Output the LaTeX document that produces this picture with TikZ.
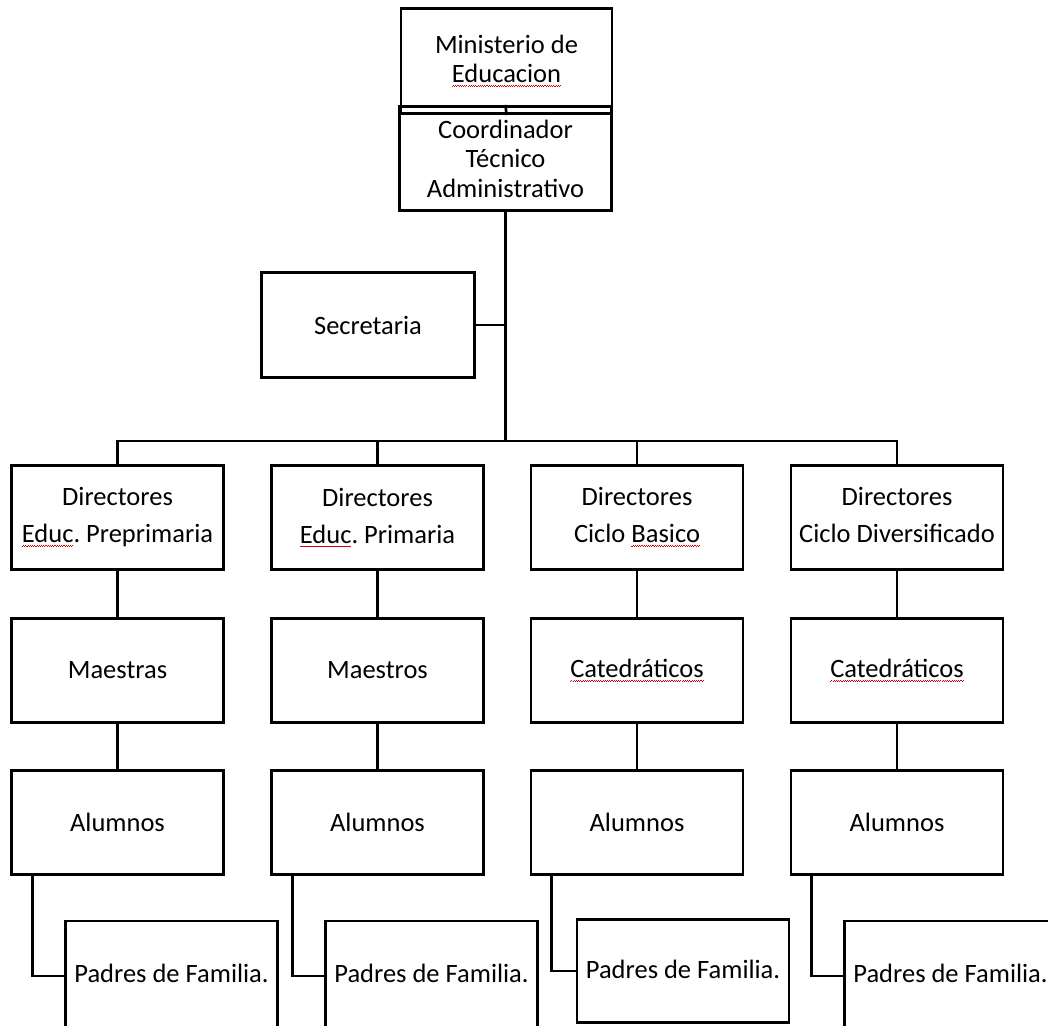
\documentclass[tikz,border=0pt]{standalone}
\usepackage{fontspec}
\setmainfont{Carlito}
\frenchspacing
\newcommand\wavebit{\hbox{\rule{1.1pt}{0.8pt}\raise0.8pt\hbox{\rule{1.1pt}{0.8pt}}}}
\newcommand\sq[1]{\setbox0\hbox{#1}\rlap{\color{red!85!black}\lower4pt\hbox to\wd0{\xleaders\wavebit\hfill}}\box0\relax}
\tikzset{
  ln/.style={line width=2.7pt},
  bx/.style={draw, line width=2.7pt, minimum width=212pt, minimum height=104pt,
    inner sep=0pt, align=center, font=\fontsize{26.5}{37}\selectfont\frenchspacing},
  topbx/.style={bx, font=\fontsize{26.5}{29.5}\selectfont\frenchspacing},
  lbl/.style={inner sep=0pt, font=\fontsize{26.5}{31}\selectfont\frenchspacing},
}
\begin{document}
\begin{tikzpicture}[x=1pt,y=-1pt]
\useasboundingbox (0,0) rectangle (1048,1025);
\clip (0,0) rectangle (1048,1025);

% top
\node[topbx, minimum width=211pt, minimum height=105.5pt] (min) at (506.5,61) {Ministerio de\\\sq{Educacion}};
\node[topbx, minimum width=212.5pt, minimum height=104.5pt] (coord) at (505.5,158.5) {Coordinador\\Técnico\\Administrativo};
\node[bx, minimum width=213.5pt, minimum height=105.5pt] (sec) at (368,325) {Secretaria};
\coordinate (bus) at (506,441);

% directors
\node[bx] (d1) at (117.5,517.5) {Directores\\\sq{Educ}. Preprimaria};
\node[bx] (d2) at (377.5,517.5) {Directores\\\sq{Educ}. Primaria};
\node[bx] (d3) at (637,517.5) {Directores\\Ciclo \sq{Basico}\vphantom{p}};
\node[bx] (d4) at (897,517.5) {Directores\\Ciclo Diversificado\vphantom{p}};

% teachers
\node[bx] (m1) at (117.5,670.5) {Maestras};
\node[bx] (m2) at (377.5,670.5) {Maestros};
\node[bx] (m3) at (637,670.5) {\sq{Catedráticos}};
\node[bx] (m4) at (897,670.5) {\sq{Catedráticos}};

% students
\node[bx] (a1) at (117.5,822.5) {Alumnos};
\node[bx] (a2) at (377.5,822.5) {Alumnos};
\node[bx] (a3) at (637,822.5) {Alumnos};
\node[bx] (a4) at (897,822.5) {Alumnos};

% parents boxes
\node[bx, minimum height=110pt] (p1) at (171.5,976) {};
\node[bx, minimum height=110pt] (p2) at (431.5,976) {};
\node[bx, minimum height=103.5pt] (p3) at (683,971) {};
\node[bx, minimum height=110pt] (p4) at (950.5,976) {};
\node[lbl, anchor=base] (p1t) at (171.5,982) {Padres de Familia.};
\node[lbl, anchor=base] (p2t) at (431.5,982) {Padres de Familia.};
\node[lbl, anchor=base] (p3t) at (683,978) {Padres de Familia.};
\node[lbl, anchor=base] (p4t) at (950.5,982) {Padres de Familia.};

\coordinate (a1c) at ([xshift=22pt]a1.south west);
\coordinate (a2c) at ([xshift=22pt]a2.south west);
\coordinate (a3c) at ([xshift=22pt]a3.south west);
\coordinate (a4c) at ([xshift=22pt]a4.south west);

% connectors
\draw[ln] (min.south) -- (coord.north);
\draw[ln] (coord.south) -- (coord.south |- bus);
\draw[ln] (sec.east) -- (sec.east -| coord.south);
\draw[ln] (d1.north) -- (d1.north |- bus) -- (d4.north |- bus) -- (d4.north);
\draw[ln] (d2.north) -- (d2.north |- bus);
\draw[ln] (d3.north) -- (d3.north |- bus);
\foreach \i in {1,2,3,4} {
  \draw[ln] (d\i.south) -- (m\i.north);
  \draw[ln] (m\i.south) -- (a\i.north);
  \draw[ln] (a\i c) |- (p\i.west);
}
\end{tikzpicture}
\end{document}
